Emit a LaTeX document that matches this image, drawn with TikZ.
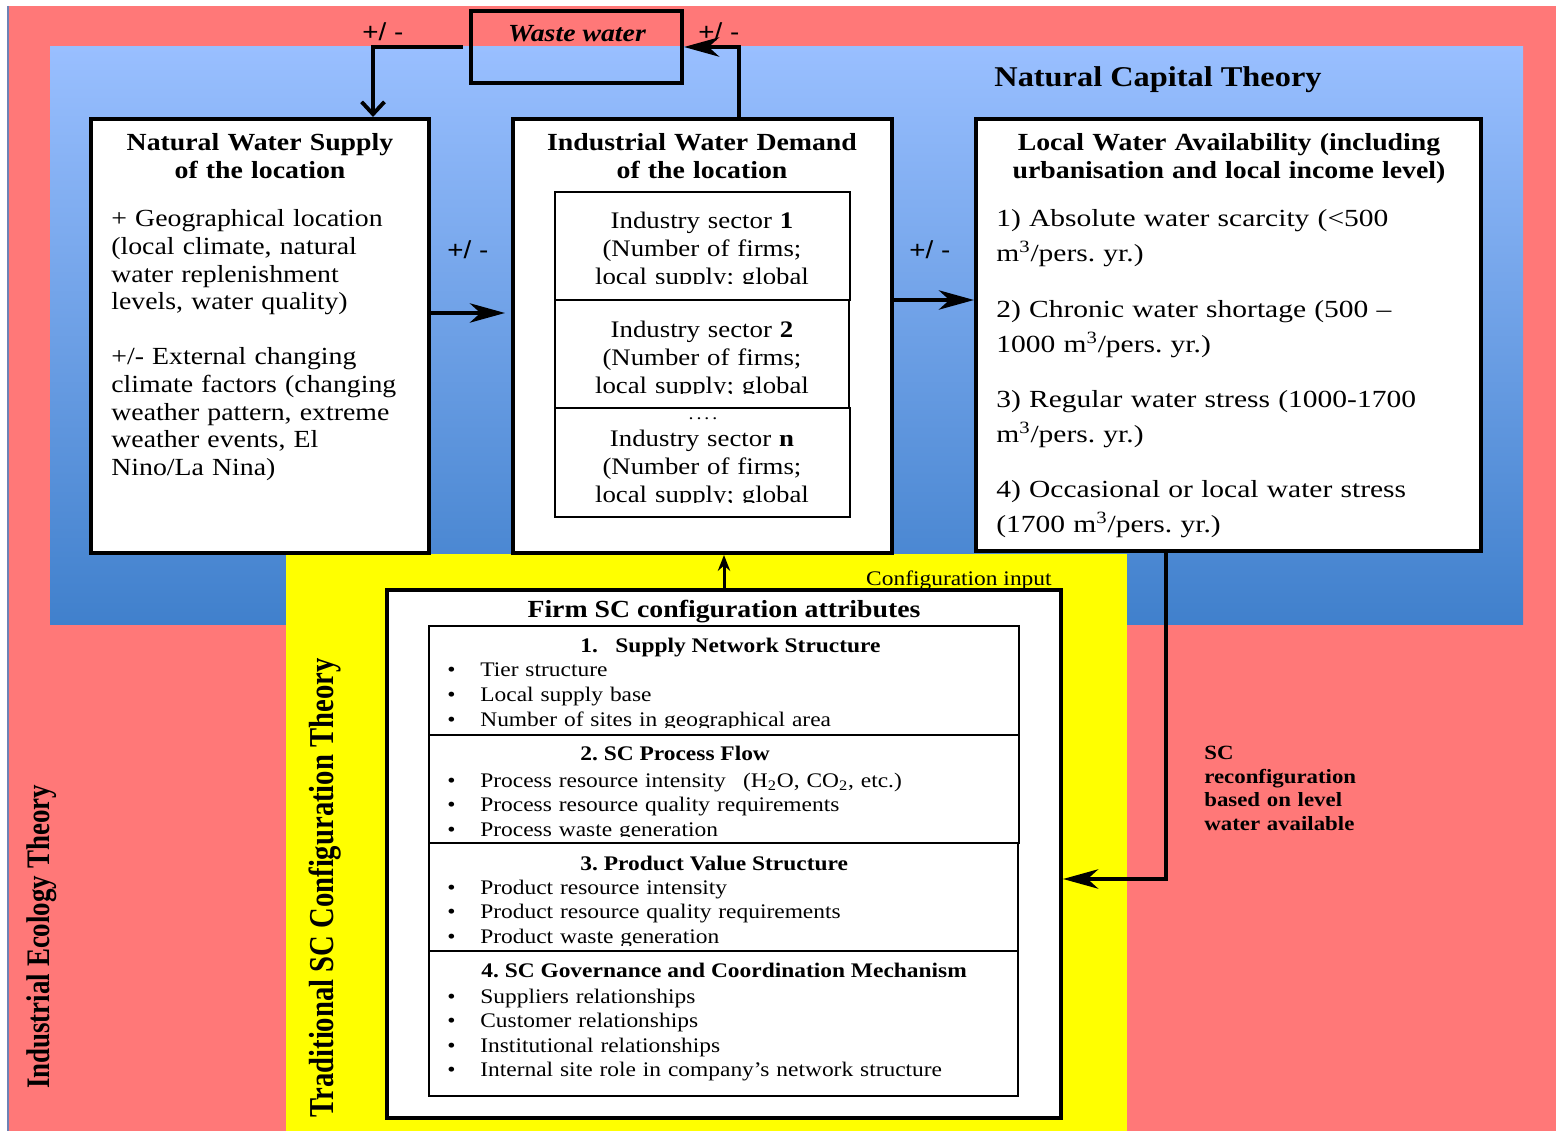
\documentclass[tikz,border=0pt]{standalone}
\usepackage{fontspec}
\setmainfont{Liberation Serif}[FakeStretch=1.13]
\newfontfamily\signsans{Liberation Sans}[FakeStretch=1.13]
\newfontfamily\availserif{Liberation Serif}[FakeStretch=1.2]
\newfontfamily\sideserif{Liberation Serif}[FakeStretch=0.82]
\usetikzlibrary{arrows.meta,calc,fit}
\definecolor{ecopink}{RGB}{255,120,120}
\definecolor{ecoedge}{RGB}{110,130,180}
\definecolor{capitaltop}{RGB}{153,191,255}
\definecolor{capitalbottom}{RGB}{64,128,204}
\definecolor{scyellow}{RGB}{255,255,0}
\tikzset{>={Stealth[length=20pt,width=11pt,inset=6pt]}}
\tikzset{
  bigbox/.style={draw=black, line width=2.3pt, fill=white, inner sep=0pt},
  plainbox/.style={draw=black, line width=2.3pt, inner sep=0pt},
  subbox/.style={draw=black, line width=1pt, inner sep=0pt},
  flow/.style={line width=2.2pt},
  boxtitle/.style={font=\bfseries\fontsize{14}{15.4}\selectfont, align=center, text width=9cm, inner sep=0pt},
  bodytext/.style={font=\fontsize{14}{15.7}\selectfont, align=left, text width=7cm, inner sep=0pt},
  availtext/.style={font=\availserif\fontsize{14}{19.9}\selectfont, align=left, text width=9.5cm, inner sep=0pt},
  sectortext/.style={font=\fontsize{13.5}{15.7}\selectfont, align=center, text width=5.8cm, inner sep=0pt},
  heading/.style={font=\bfseries\fontsize{11.8}{13.9}\selectfont, inner sep=0pt},
  itemlist/.style={font=\fontsize{11.8}{13.95}\selectfont, align=left, text width=11cm, inner sep=0pt},
  sign/.style={font=\signsans\fontsize{14}{16}\selectfont, inner sep=0pt},
  theory/.style={font=\sideserif\bfseries, rotate=90, inner sep=0pt}
}
\newcommand{\bul}{\makebox[18.8pt][l]{\textbullet}}
\frenchspacing

\begin{document}
\begin{tikzpicture}[x=0.02cm, y=-0.02cm]
\useasboundingbox (0,0) rectangle (1556,1131);
% theory layers
\fill[white] (0,0) rectangle (1556,1131);
\fill[ecopink] (8,6) rectangle (1556,1131);
\draw[line width=0.6pt, draw=ecoedge] (8,6) -- (8,1131);
\shade[top color=capitaltop, bottom color=capitalbottom] (50,47) rectangle (1523,625);
\fill[scyellow] (286,554) rectangle (1127,1131);

\node[theory, font=\sideserif\bfseries\fontsize{18.7}{20}\selectfont, anchor=base] (ecotheory) at (50,937) {Industrial Ecology Theory};
\node[theory, font=\sideserif\bfseries\fontsize{19.9}{21}\selectfont, anchor=base] (sctheory) at (333,888) {Traditional SC Configuration Theory};
\node[font=\bfseries\fontsize{16.3}{18}\selectfont, anchor=base, inner sep=0pt] (capitaltheory) at (1158,87) {Natural Capital Theory};

% boxes
\node[plainbox, fit={(471,11) (682,83)}] (ww) {};
\node[font=\bfseries\itshape\fontsize{14}{16}\selectfont, anchor=base, inner sep=0pt] (wwtext) at (577,42) {Waste water};
\node[bigbox, fit={(91,119) (429,553)}] (nws) {};
\node[bigbox, fit={(513,119) (892,553)}] (ind) {};
\node[bigbox, fit={(976,119) (1481,551)}] (lwa) {};
\node[bigbox, fit={(387,590) (1061,1118)}] (cfg) {};

% natural water supply
\node[boxtitle, anchor=base] (nwstitle) at (260,151) {Natural Water Supply\\of the location};
\node[bodytext, anchor=base west] (nwsbody) at (111,227) {+ Geographical location\\(local climate, natural\\water replenishment\\levels, water quality)\\[15.7pt]+/- External changing\\climate factors (changing\\weather pattern, extreme\\weather events, El\\Nino/La Nina)};

% industrial water demand
\node[boxtitle, anchor=base] (indtitle) at (702,151) {Industrial Water Demand\\of the location};
\node[subbox, fit={(555,192) (850,300)}] (sector1) {};
\node[subbox, fit={(555,300) (849,408)}] (sector2) {};
\node[subbox, fit={(555,408) (850,517)}] (sectorn) {};
\begin{scope}
  \clip (555,192) rectangle (850,284);
  \node[sectortext, anchor=base] (sector1text) at (702,229) {Industry sector \textbf{1}\\(Number of firms;\\local supply; global};
\end{scope}
\begin{scope}
  \clip (555,300) rectangle (850,394);
  \node[sectortext, anchor=base] (sector2text) at (702,338) {Industry sector \textbf{2}\\(Number of firms;\\local supply; global};
\end{scope}
\node[font=\fontsize{10}{12}\selectfont, anchor=base, inner sep=0pt] (sectordots) at (703,420) {.\,.\,.\,.};
\begin{scope}
  \clip (555,408) rectangle (850,503);
  \node[sectortext, anchor=base] (sectorntext) at (702,447) {Industry sector \textbf{n}\\(Number of firms;\\local supply; global};
\end{scope}

% local water availability
\node[boxtitle, anchor=base] (lwatitle) at (1229,151) {Local Water Availability (including\\urbanisation and local income level)};
\node[availtext, anchor=base west] (lwa1) at (996,227) {1) Absolute water scarcity (<500\\m\textsuperscript{3}/pers. yr.)};
\node[availtext, anchor=base west] (lwa2) at (996,318) {2) Chronic water shortage (500 –\\1000 m\textsuperscript{3}/pers. yr.)};
\node[availtext, anchor=base west] (lwa3) at (996,408) {3) Regular water stress (1000-1700\\m\textsuperscript{3}/pers. yr.)};
\node[availtext, anchor=base west] (lwa4) at (996,498) {4) Occasional or local water stress\\(1700 m\textsuperscript{3}/pers. yr.)};

% firm SC configuration
\node[font=\bfseries\fontsize{14}{16}\selectfont, anchor=base, inner sep=0pt] (cfgtitle) at (724,618) {Firm SC configuration attributes};
\node[subbox, fit={(429,626) (1019,735)}] (attr1) {};
\node[subbox, fit={(429,735) (1019,843)}] (attr2) {};
\node[subbox, fit={(429,843) (1018,951)}] (attr3) {};
\node[subbox, fit={(429,951) (1018,1096)}] (attr4) {};
\node[heading, anchor=base west] (attr1head) at (580,653) {1.\hspace{10pt}Supply Network Structure};
\node[heading, anchor=base west] (attr2head) at (580,761) {2. SC Process Flow};
\node[heading, anchor=base west] (attr3head) at (580,870) {3. Product Value Structure};
\node[heading, anchor=base west] (attr4head) at (481,977) {4. SC Governance and Coordination Mechanism};
\begin{scope}
  \clip (429,626) rectangle (1019,728);
  \node[itemlist, anchor=base west] (attr1items) at (447,677) {\bul Tier structure\\\bul Local supply base\\\bul Number of sites in geographical area};
\end{scope}
\begin{scope}
  \clip (429,735) rectangle (1019,836);
  \node[itemlist, anchor=base west] (attr2items) at (447,787) {\bul Process resource intensity\hspace{0.5em} (H\textsubscript{2}O, CO\textsubscript{2}, etc.)\\\bul Process resource quality requirements\\\bul Process waste generation};
\end{scope}
\begin{scope}
  \clip (429,843) rectangle (1018,945);
  \node[itemlist, anchor=base west] (attr3items) at (447,894) {\bul Product resource intensity\\\bul Product resource quality requirements\\\bul Product waste generation};
\end{scope}
\node[itemlist, anchor=base west] (attr4items) at (447,1003) {\bul Suppliers relationships\\\bul Customer relationships\\\bul Institutional relationships\\\bul Internal site role in company’s network structure};

\node[font=\fontsize{11.8}{14}\selectfont, anchor=base east, inner sep=0pt] (cfginput) at (1052,586) {Configuration input};
\node[font=\bfseries\fontsize{11.5}{13.3}\selectfont, align=left, text width=4cm, anchor=base west, inner sep=0pt] (reconfig) at (1204,760) {SC\\reconfiguration\\based on level\\water available};

% signs
\node[sign, anchor=base west] (signww1) at (362,41) {+/ -};
\node[sign, anchor=base west] (signww2) at (698,41) {+/ -};
\node[sign, anchor=base west] (signnws) at (447,259) {+/ -};
\node[sign, anchor=base west] (signind) at (909,259) {+/ -};

% connectors
\draw[flow, -{Straight Barb[length=7pt,width=13pt]}, shorten <=3.4pt] (ww.west) -| ($(nws.north east)+(-58,0)$);
\draw[flow, ->] ($(ind.north)+(36.5,0)$) |- (ww.east);
\draw[flow, ->] ($(nws.east)+(-4,-23)$) -- ($(ind.west)+(-6,-23)$);
\draw[flow, ->] ($(ind.east)+(0,-36)$) -- ($(lwa.west)+(0,-35)$);
\draw[flow, ->] ($(lwa.south)+(-62.5,0)$) |- ($(cfg.east)+(0,25)$);
\draw[line width=1.7pt, -{Stealth[length=9pt,width=7pt,inset=3pt]}] (cfg.north) -- (cfg.north |- ind.south);
\end{tikzpicture}
\end{document}
